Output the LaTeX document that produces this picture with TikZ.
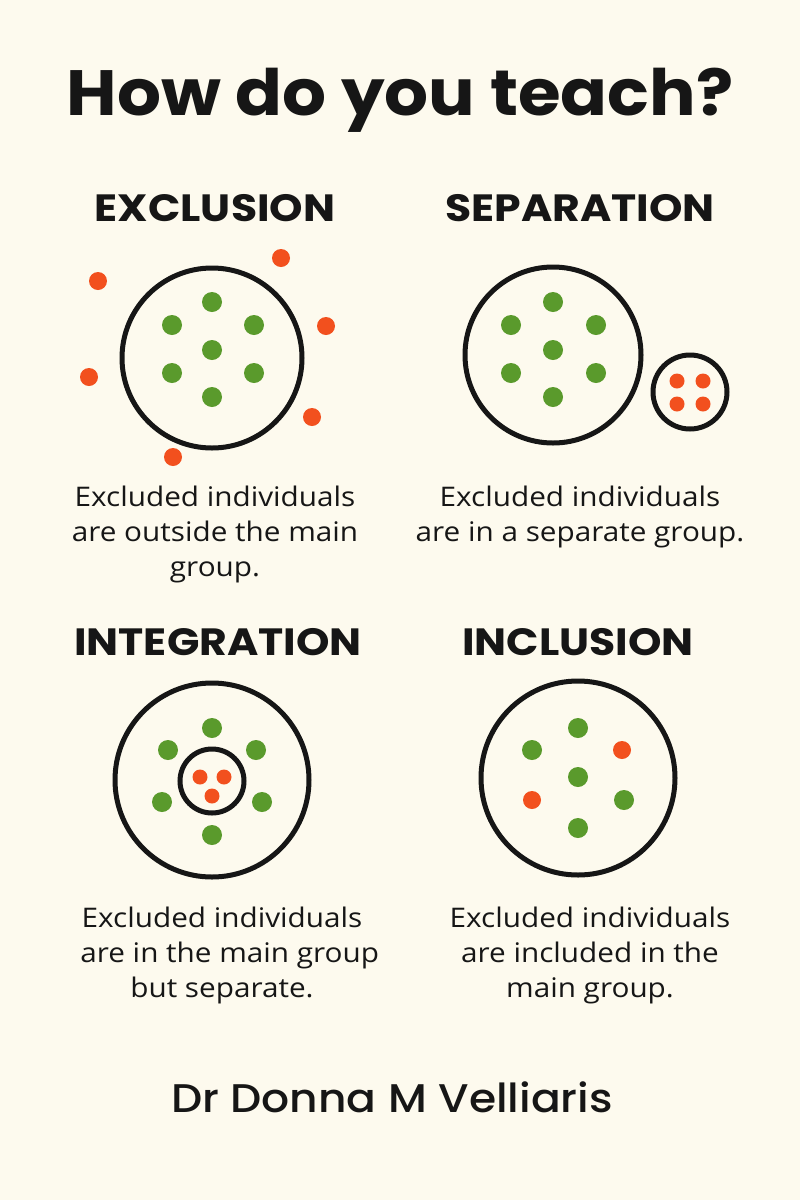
\documentclass[tikz,border=0pt]{standalone}
\usepackage{fontspec}
\setmainfont{Open Sans}[FakeStretch=1.1]
\newfontfamily\hhfont{Poppins}[FakeStretch=1.12]
\newfontfamily\tfont{Poppins}[FakeStretch=1.08]
\newfontfamily\ffont{Poppins Medium}[FakeStretch=1.1]
\definecolor{bg}{HTML}{FDFAEE}
\definecolor{gr}{HTML}{5A9A2C}
\definecolor{rd}{HTML}{F2501E}
\definecolor{ink}{HTML}{161616}
\begin{document}
\begin{tikzpicture}[x=1pt,y=-1pt,
  g/.style={circle,fill=gr,minimum size=20pt,inner sep=0pt},
  r/.style={circle,fill=rd,minimum size=18pt,inner sep=0pt},
  rs/.style={circle,fill=rd,minimum size=15pt,inner sep=0pt},
  ring/.style={circle,draw=ink,line width=5pt,inner sep=0pt},
  hd/.style={font=\hhfont\fontsize{38}{40}\selectfont\bfseries,text=ink},
  tx/.style={font=\fontsize{27}{35}\selectfont,text=ink,align=center}]
\fill[bg] (0,0) rectangle (800,1200);
\useasboundingbox (0,0) rectangle (800,1200);
\node[font=\tfont\fontsize{64}{66}\selectfont\bfseries,text=ink] (title) at (400,100) {How do you teach?};
\node[hd] (h1) at (215,208) {EXCLUSION};
\node[hd] (h2) at (580,208) {SEPARATION};
\node[hd] (h3) at (218,642) {INTEGRATION};
\node[hd] (h4) at (578,642) {INCLUSION};
% exclusion
\node[ring,minimum size=180pt] (c1) at (212,358) {};
\foreach \p [count=\i] in {(212,302),(172,325),(254,325),(212,350),(172,373),(254,373),(212,397)} \node[g] (e\i) at \p {};
\foreach \p [count=\i] in {(98,281),(281,258),(326,326),(89,377),(312,417),(173,457)} \node[r] (x\i) at \p {};
% separation
\node[ring,minimum size=176pt] (c2) at (553,355) {};
\foreach \p [count=\i] in {(553,302),(511,325),(596,325),(553,350),(511,373),(596,373),(553,397)} \node[g] (s\i) at \p {};
\node[ring,minimum size=74pt] (c2b) at (690,392) {};
\foreach \p [count=\i] in {(677,381),(703,381),(677,404),(703,404)} \node[rs] (sr\i) at \p {};
% integration
\node[ring,minimum size=194pt] (c3) at (212,780) {};
\foreach \p [count=\i] in {(212,728),(168,750),(256,750),(162,802),(262,802),(212,835)} \node[g] (i\i) at \p {};
\node[ring,minimum size=64pt] (c3b) at (212,781) {};
\foreach \p [count=\i] in {(200,777),(224,777),(212,796)} \node[rs] (ir\i) at \p {};
% inclusion
\node[ring,minimum size=194pt] (c4) at (578,778) {};
\foreach \p [count=\i] in {(578,728),(532,750),(578,777),(624,800),(578,828)} \node[g] (n\i) at \p {};
\foreach \p [count=\i] in {(622,750),(532,800)} \node[r] (nr\i) at \p {};
% texts
\node[tx] (t1) at (215,534) {Excluded individuals\\are outside the main\\group.};
\node[tx] (t2) at (580,517) {Excluded individuals\\are in a separate group.};
\node[tx] (t3) at (222,955) {Excluded individuals\\\ \ are in the main group\\but separate.};
\node[tx] (t4) at (590,955) {Excluded individuals\\are included in the\\main group.};
\node[font=\ffont\fontsize{40}{42}\selectfont,text=ink] (ft) at (392,1097) {Dr Donna M Velliaris};
\end{tikzpicture}
\end{document}
